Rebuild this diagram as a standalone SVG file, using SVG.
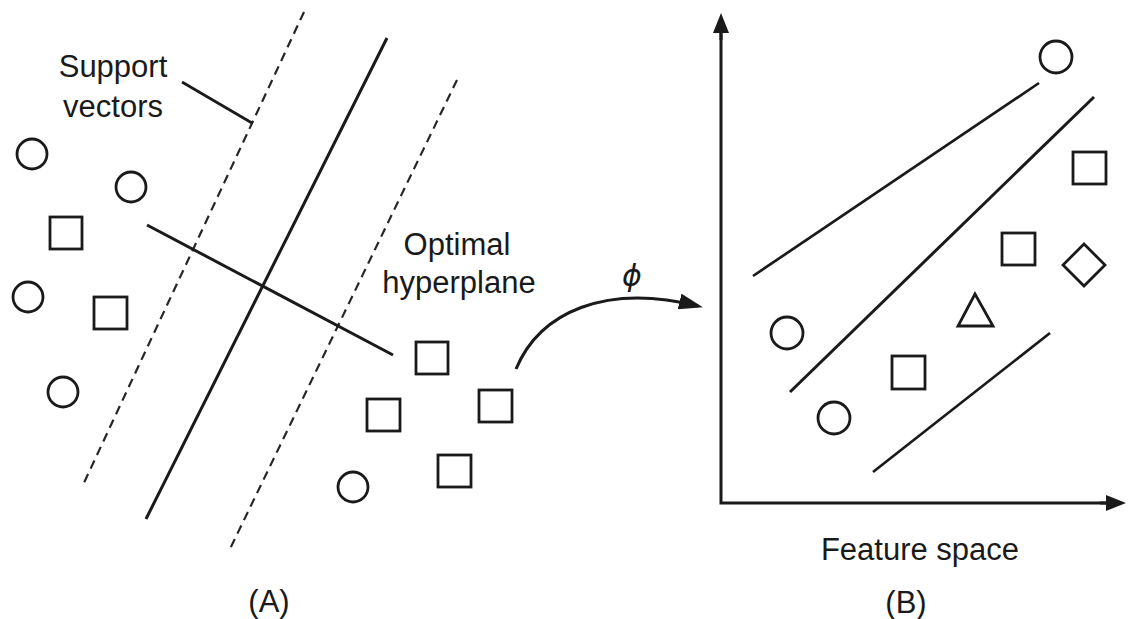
<svg xmlns="http://www.w3.org/2000/svg" width="1128" height="619" viewBox="0 0 1128 619">
<style>
  .lbl { font-family: "Liberation Sans", Arial, sans-serif; font-size: 31px; fill: #1a1a1a; }
  .phi { font-family: "DejaVu Sans", sans-serif; font-style: italic; font-size: 30px; fill: #1a1a1a; }
  .shape { fill: none; stroke: #1a1a1a; stroke-width: 2.8; }
  .solid { stroke: #1a1a1a; stroke-width: 3; fill: none; }
  .thin { stroke: #1a1a1a; stroke-width: 2.7; fill: none; }
  .dash { stroke: #262626; stroke-width: 2.2; stroke-dasharray: 9 6; fill: none; }
  .axis { stroke: #1a1a1a; stroke-width: 3; fill: none; }
</style>
<defs>
  <marker id="ah" viewBox="0 0 20 16" refX="15" refY="8" markerWidth="20" markerHeight="16" markerUnits="userSpaceOnUse" orient="auto">
    <path d="M0,0 L20,8 L0,16 z" fill="#1a1a1a"/>
  </marker>
  <marker id="ah2" viewBox="0 0 24 16" refX="19" refY="8" markerWidth="24" markerHeight="16" markerUnits="userSpaceOnUse" orient="auto">
    <path d="M0,0 L24,8 L0,16 z" fill="#1a1a1a"/>
  </marker>
</defs>
<rect width="1128" height="619" fill="#ffffff"/>

<!-- Panel A -->
<g id="panelA">
  <g id="margins-A">
    <line class="dash" x1="304" y1="12" x2="82" y2="487"/>
    <line class="dash" x1="457" y1="80" x2="229" y2="551"/>
    <line class="solid" x1="387" y1="38" x2="146" y2="519"/>
    <line class="solid" x1="147" y1="225" x2="393" y2="355"/>
  </g>
  <g id="label-support">
    <text class="lbl" x="113" y="77" text-anchor="middle">Support</text>
    <text class="lbl" x="113" y="117" text-anchor="middle">vectors</text>
    <line class="thin" x1="182" y1="82" x2="252" y2="123" stroke-width="2"/>
  </g>
  <g id="label-hyperplane">
    <text class="lbl" x="457" y="255" text-anchor="middle">Optimal</text>
    <text class="lbl" x="459" y="293" text-anchor="middle">hyperplane</text>
  </g>
  <g id="classA-circles">
    <circle class="shape" cx="32" cy="154" r="15"/>
    <circle class="shape" cx="131" cy="187" r="15"/>
    <circle class="shape" cx="28" cy="297" r="15"/>
    <circle class="shape" cx="63" cy="392" r="15"/>
    <circle class="shape" cx="353" cy="487" r="15"/>
  </g>
  <g id="classA-squares">
    <rect class="shape" x="50" y="217" width="32" height="32"/>
    <rect class="shape" x="94" y="297" width="33" height="32"/>
    <rect class="shape" x="416" y="342" width="32" height="32"/>
    <rect class="shape" x="367" y="399" width="33" height="32"/>
    <rect class="shape" x="479" y="390" width="33" height="32"/>
    <rect class="shape" x="438" y="455" width="33" height="32"/>
  </g>
  <text class="lbl" x="269" y="612" text-anchor="middle">(A)</text>
</g>

<!-- Mapping arrow -->
<g id="connectors">
  <path class="solid" d="M516,369 C540,312 605,283 698,306" marker-end="url(#ah2)"/>
  <text class="phi" x="632" y="286" text-anchor="middle">ϕ</text>
</g>

<!-- Panel B -->
<g id="panelB">
  <g id="axes">
    <path class="axis" d="M721,18 L721,503 L1121,503" fill="none"/>
    <line class="axis" x1="721" y1="40" x2="721" y2="18" marker-end="url(#ah)"/>
    <line class="axis" x1="1100" y1="503" x2="1121" y2="503" marker-end="url(#ah)"/>
  </g>
  <g id="margins-B">
    <line class="thin" x1="753" y1="276" x2="1039" y2="83"/>
    <line class="solid" x1="790" y1="392" x2="1094" y2="97"/>
    <line class="thin" x1="873" y1="472" x2="1050" y2="333"/>
  </g>
  <g id="classB-circles">
    <circle class="shape" cx="1056" cy="57" r="16"/>
    <circle class="shape" cx="787" cy="333" r="16"/>
    <circle class="shape" cx="834" cy="418" r="16"/>
  </g>
  <g id="classB-squares">
    <rect class="shape" x="1073" y="152" width="33" height="32"/>
    <rect class="shape" x="1002" y="233" width="33" height="32"/>
    <rect class="shape" x="892" y="356" width="33" height="33"/>
  </g>
  <g id="classB-others">
    <polygon class="shape" points="1084,244 1105,265 1084,286 1063,265"/>
    <polygon class="shape" points="975,294 993,326 958,326"/>
  </g>
  <text class="lbl" x="920" y="560" text-anchor="middle">Feature space</text>
  <text class="lbl" x="906" y="613" text-anchor="middle">(B)</text>
</g>
</svg>
